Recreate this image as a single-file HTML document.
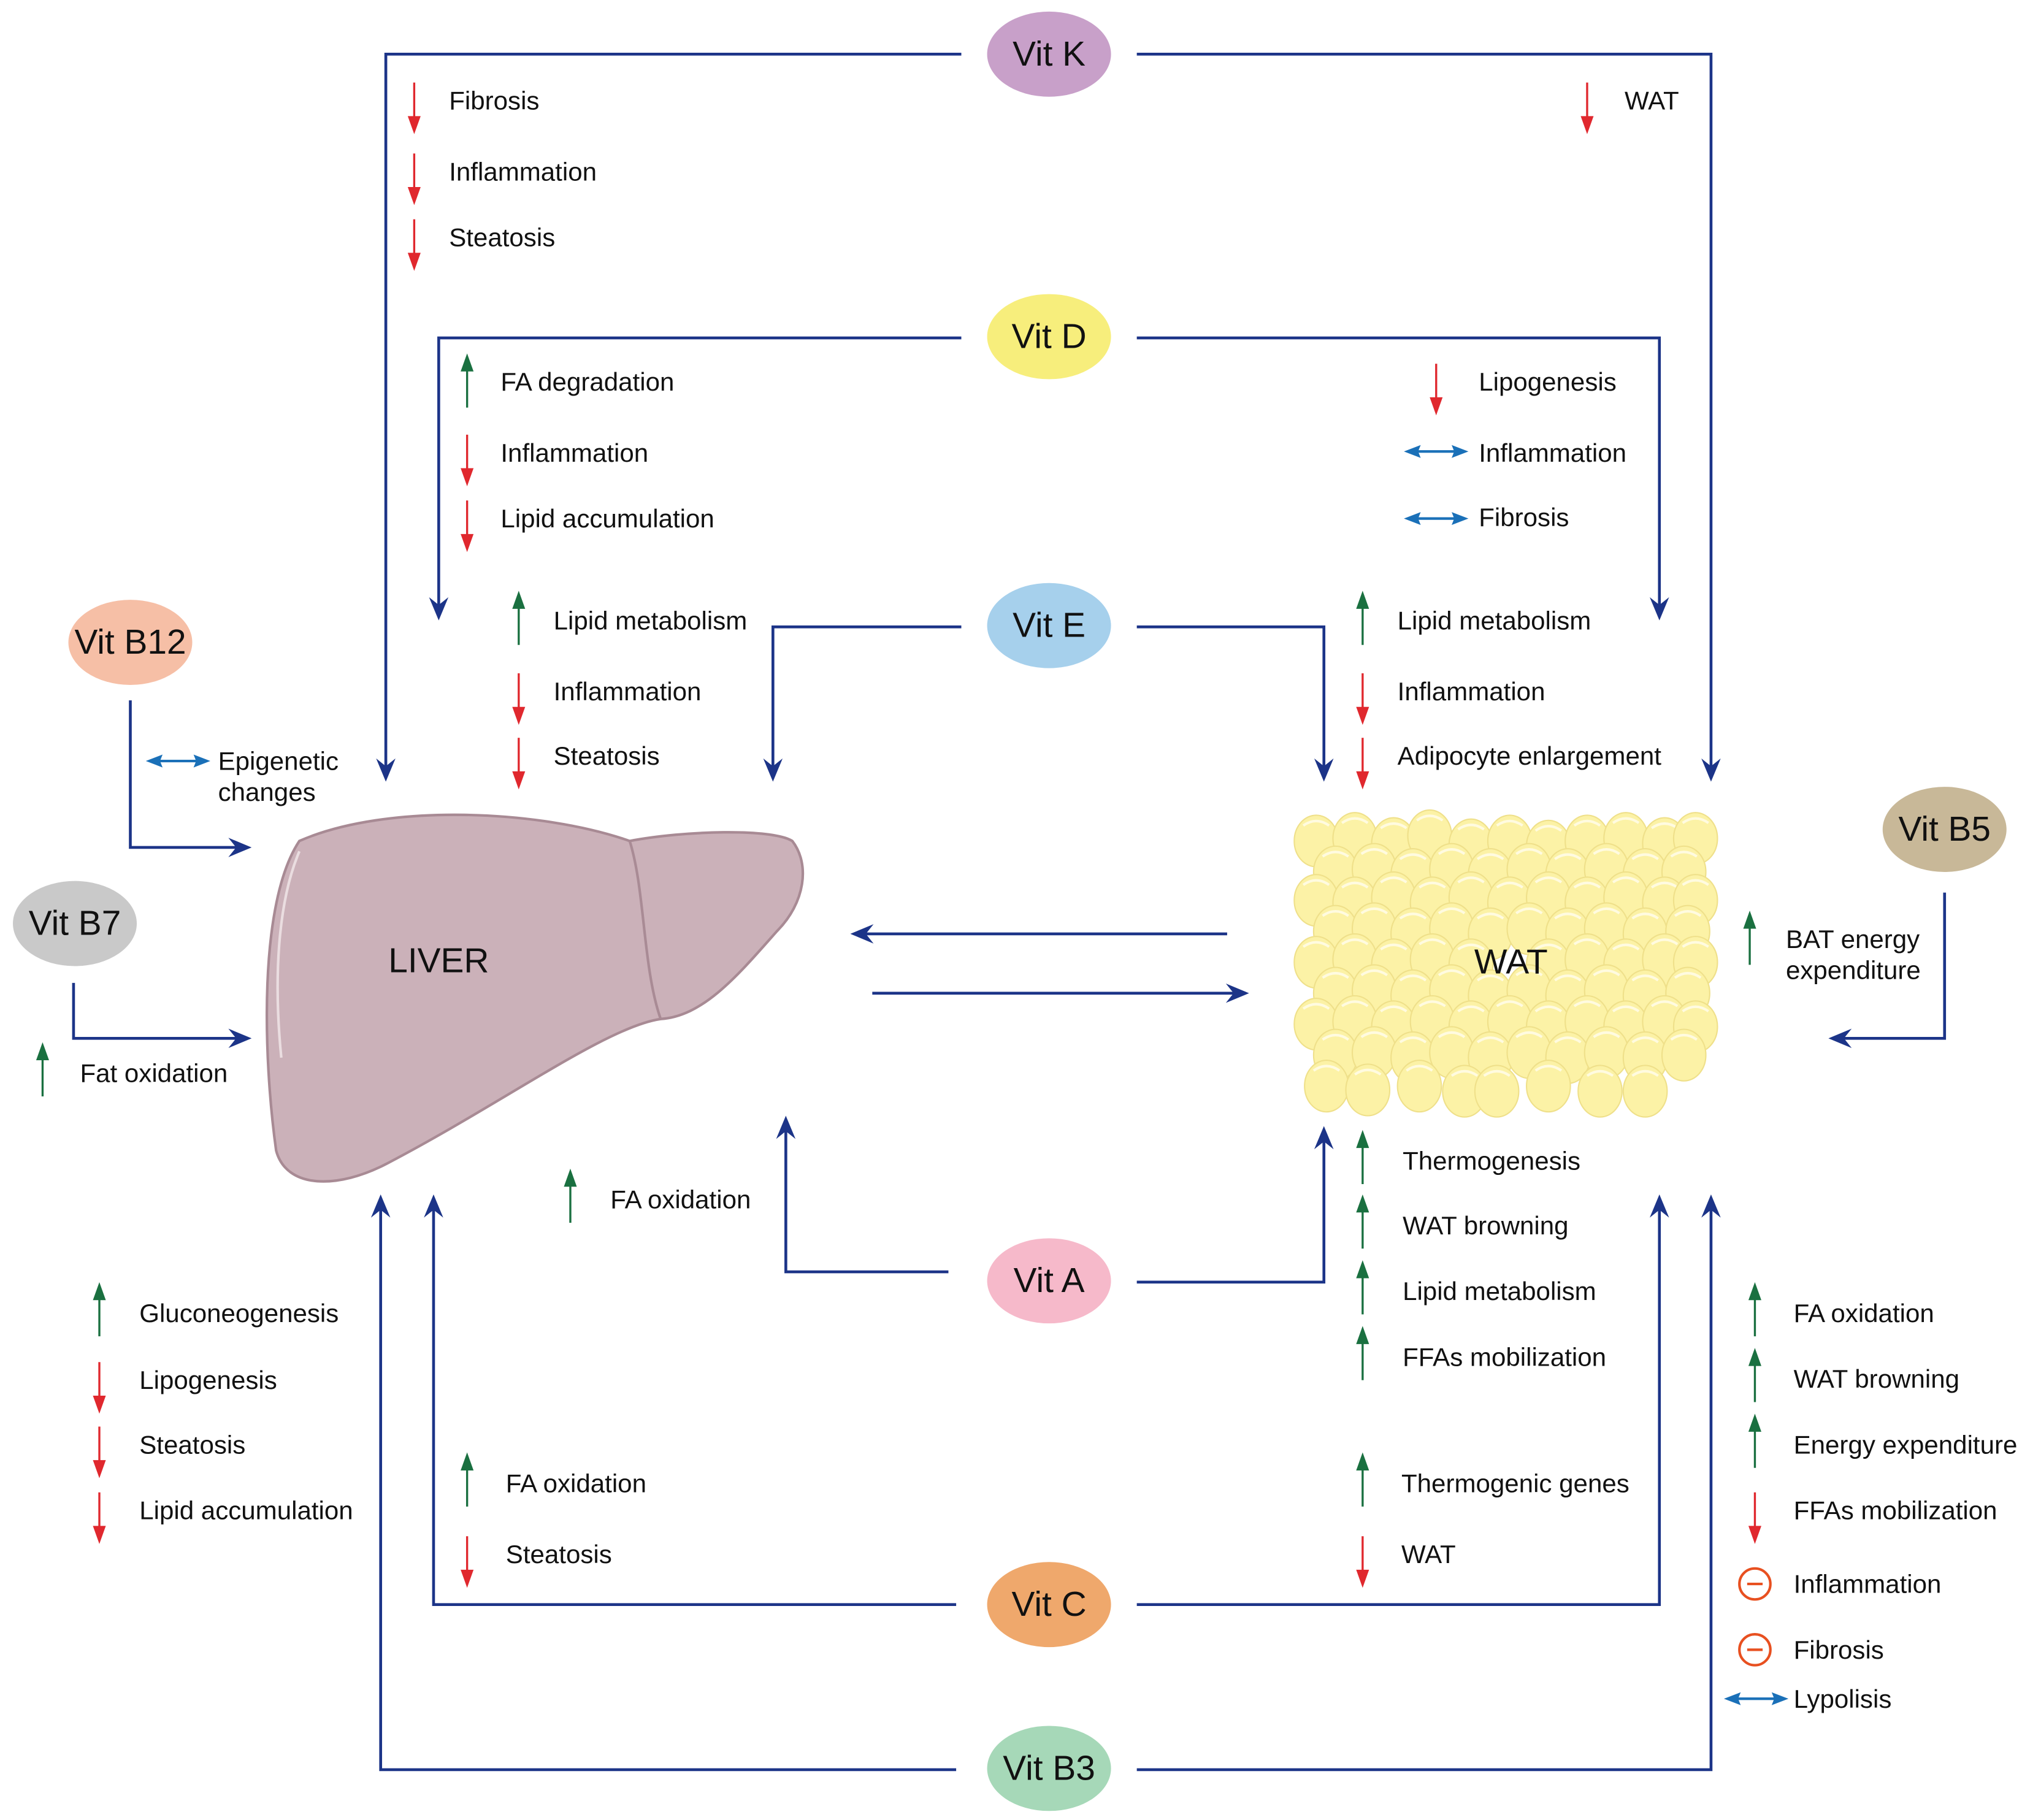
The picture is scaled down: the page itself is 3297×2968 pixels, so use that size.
<!DOCTYPE html>
<html><head><meta charset="utf-8"><style>
html,body{margin:0;padding:0;background:#fff;}
svg{display:block;}
text{font-family:"Liberation Sans",sans-serif;font-size:20px;fill:#111;dominant-baseline:central;}
.v{font-size:27px;text-anchor:middle;}
.c{fill:none;stroke:#1c3488;stroke-width:2.2;}
</style></head><body>
<svg width="3297" height="2968" viewBox="0 0 1567 1411" preserveAspectRatio="none" xmlns="http://www.w3.org/2000/svg">
<defs>
<marker id="m" viewBox="0 0 12 12" refX="10" refY="6" markerWidth="18" markerHeight="18" markerUnits="userSpaceOnUse" orient="auto"><path d="M0,1 L12,6 L0,11 L4,6 Z" fill="#1c3488"/></marker>
<g id="rd"><line x1="0" y1="-18" x2="0" y2="10" stroke="#e0282e" stroke-width="1.6"/><path d="M-5,8 L5,8 L0,22 Z" fill="#e0282e"/></g>
<g id="gu"><line x1="0" y1="22" x2="0" y2="-8" stroke="#1a7040" stroke-width="1.6"/><path d="M-5,-6 L5,-6 L0,-20 Z" fill="#1a7040"/></g>
<g id="bd"><line x1="-20" y1="0" x2="20" y2="0" stroke="#1a70b8" stroke-width="2"/><path d="M-25,0 L-12,-5 L-14,0 L-12,5 Z M25,0 L12,-5 L14,0 L12,5 Z" fill="#1a70b8"/></g>
<g id="mn"><circle r="12" fill="none" stroke="#e85020" stroke-width="2"/><line x1="-6" x2="6" y1="0" y2="0" stroke="#e85020" stroke-width="2"/></g>
<g id="cl"><ellipse rx="17" ry="20" fill="#fcf2a6" stroke="#efe08a" stroke-width="1"/><path d="M-10,-12 Q0,-19 10,-12" fill="none" stroke="#fffbe0" stroke-width="2"/></g>
</defs>

<path class="c" d="M745,42 H299 V603" marker-end="url(#m)"/>
<path class="c" d="M881,42 H1326 V603" marker-end="url(#m)"/>
<path class="c" d="M745,262 H340 V478" marker-end="url(#m)"/>
<path class="c" d="M881,262 H1286 V478" marker-end="url(#m)"/>
<path class="c" d="M745,486 H599 V603" marker-end="url(#m)"/>
<path class="c" d="M881,486 H1026 V603" marker-end="url(#m)"/>
<path class="c" d="M735,986 H609 V868" marker-end="url(#m)"/>
<path class="c" d="M881,994 H1026 V876" marker-end="url(#m)"/>
<path class="c" d="M741,1244 H336 V929" marker-end="url(#m)"/>
<path class="c" d="M881,1244 H1286 V929" marker-end="url(#m)"/>
<path class="c" d="M741,1372 H295 V929" marker-end="url(#m)"/>
<path class="c" d="M881,1372 H1326 V929" marker-end="url(#m)"/>
<path class="c" d="M101,543 V657 H192" marker-end="url(#m)"/>
<path class="c" d="M57,762 V805 H192" marker-end="url(#m)"/>
<path class="c" d="M1507,692 V805 H1420" marker-end="url(#m)"/>
<path class="c" d="M951,724 H662" marker-end="url(#m)"/>
<path class="c" d="M676,770 H965" marker-end="url(#m)"/>

<path d="M232,652 C300,622 420,628 488,652 C530,644 598,642 614,652 C628,670 624,700 602,722 C572,756 545,788 512,790 C470,796 390,855 300,902 C262,922 222,922 214,892 C204,820 200,700 232,652 Z" fill="#cbb1b9" stroke="#a88a94" stroke-width="2"/>
<path d="M488,652 C500,690 498,750 512,790" fill="none" stroke="#a98b95" stroke-width="2"/>
<path d="M232,660 C215,700 212,760 218,820" fill="none" stroke="#eadde0" stroke-width="2"/>
<text x="340" y="745" style="font-size:27px;text-anchor:middle">LIVER</text>

<g>
<use href="#cl" x="1020" y="652"/><use href="#cl" x="1050" y="650"/><use href="#cl" x="1080" y="654"/><use href="#cl" x="1108" y="648"/><use href="#cl" x="1140" y="655"/><use href="#cl" x="1170" y="652"/><use href="#cl" x="1200" y="656"/><use href="#cl" x="1230" y="652"/><use href="#cl" x="1260" y="650"/><use href="#cl" x="1290" y="654"/><use href="#cl" x="1314" y="650"/>
<use href="#cl" x="1035" y="676"/><use href="#cl" x="1065" y="674"/><use href="#cl" x="1095" y="678"/><use href="#cl" x="1125" y="674"/><use href="#cl" x="1155" y="678"/><use href="#cl" x="1185" y="674"/><use href="#cl" x="1215" y="678"/><use href="#cl" x="1245" y="674"/><use href="#cl" x="1275" y="678"/><use href="#cl" x="1305" y="676"/>
<use href="#cl" x="1020" y="698"/><use href="#cl" x="1050" y="700"/><use href="#cl" x="1080" y="696"/><use href="#cl" x="1110" y="700"/><use href="#cl" x="1140" y="696"/><use href="#cl" x="1170" y="700"/><use href="#cl" x="1200" y="696"/><use href="#cl" x="1230" y="700"/><use href="#cl" x="1260" y="696"/><use href="#cl" x="1290" y="700"/><use href="#cl" x="1314" y="698"/>
<use href="#cl" x="1035" y="722"/><use href="#cl" x="1065" y="720"/><use href="#cl" x="1095" y="724"/><use href="#cl" x="1125" y="720"/><use href="#cl" x="1155" y="724"/><use href="#cl" x="1185" y="720"/><use href="#cl" x="1215" y="724"/><use href="#cl" x="1245" y="720"/><use href="#cl" x="1275" y="724"/><use href="#cl" x="1308" y="722"/>
<use href="#cl" x="1020" y="746"/><use href="#cl" x="1050" y="744"/><use href="#cl" x="1080" y="748"/><use href="#cl" x="1110" y="744"/><use href="#cl" x="1140" y="748"/><use href="#cl" x="1200" y="748"/><use href="#cl" x="1230" y="744"/><use href="#cl" x="1260" y="748"/><use href="#cl" x="1290" y="744"/><use href="#cl" x="1314" y="746"/>
<use href="#cl" x="1035" y="770"/><use href="#cl" x="1065" y="768"/><use href="#cl" x="1095" y="772"/><use href="#cl" x="1125" y="768"/><use href="#cl" x="1155" y="772"/><use href="#cl" x="1185" y="768"/><use href="#cl" x="1215" y="772"/><use href="#cl" x="1245" y="768"/><use href="#cl" x="1275" y="772"/><use href="#cl" x="1308" y="770"/>
<use href="#cl" x="1020" y="794"/><use href="#cl" x="1050" y="792"/><use href="#cl" x="1080" y="796"/><use href="#cl" x="1110" y="792"/><use href="#cl" x="1140" y="796"/><use href="#cl" x="1170" y="792"/><use href="#cl" x="1200" y="796"/><use href="#cl" x="1230" y="792"/><use href="#cl" x="1260" y="796"/><use href="#cl" x="1290" y="792"/><use href="#cl" x="1314" y="796"/>
<use href="#cl" x="1035" y="818"/><use href="#cl" x="1065" y="816"/><use href="#cl" x="1095" y="820"/><use href="#cl" x="1125" y="816"/><use href="#cl" x="1155" y="820"/><use href="#cl" x="1185" y="816"/><use href="#cl" x="1215" y="820"/><use href="#cl" x="1245" y="816"/><use href="#cl" x="1275" y="820"/><use href="#cl" x="1305" y="818"/>
<use href="#cl" x="1028" y="842"/><use href="#cl" x="1060" y="845"/><use href="#cl" x="1100" y="842"/><use href="#cl" x="1135" y="846"/><use href="#cl" x="1160" y="846"/><use href="#cl" x="1200" y="842"/><use href="#cl" x="1240" y="846"/><use href="#cl" x="1275" y="846"/>
</g>
<text x="1171" y="746" style="font-size:27px;text-anchor:middle">WAT</text>

<ellipse cx="813" cy="42" rx="48" ry="33" fill="#c8a0c9"/><text class="v" x="813" y="42">Vit K</text>
<ellipse cx="813" cy="261" rx="48" ry="33" fill="#f7ee7c"/><text class="v" x="813" y="261">Vit D</text>
<ellipse cx="813" cy="485" rx="48" ry="33" fill="#a6d0ec"/><text class="v" x="813" y="485">Vit E</text>
<ellipse cx="813" cy="993" rx="48" ry="33" fill="#f6b9ca"/><text class="v" x="813" y="993">Vit A</text>
<ellipse cx="813" cy="1244" rx="48" ry="33" fill="#efa86c"/><text class="v" x="813" y="1244">Vit C</text>
<ellipse cx="813" cy="1371" rx="48" ry="33" fill="#a6d8b8"/><text class="v" x="813" y="1371">Vit B3</text>
<ellipse cx="101" cy="498" rx="48" ry="33" fill="#f6bfa6"/><text class="v" x="101" y="498">Vit B12</text>
<ellipse cx="58" cy="716" rx="48" ry="33" fill="#c9c9c9"/><text class="v" x="58" y="716">Vit B7</text>
<ellipse cx="1507" cy="643" rx="48" ry="33" fill="#c8b898"/><text class="v" x="1507" y="643">Vit B5</text>

<use href="#rd" x="321" y="82"/><text x="348" y="78">Fibrosis</text>
<use href="#rd" x="321" y="137"/><text x="348" y="133">Inflammation</text>
<use href="#rd" x="321" y="188"/><text x="348" y="184">Steatosis</text>
<use href="#rd" x="1230" y="82"/><text x="1259" y="78">WAT</text>
<use href="#gu" x="362" y="294"/><text x="388" y="296">FA degradation</text>
<use href="#rd" x="362" y="355"/><text x="388" y="351">Inflammation</text>
<use href="#rd" x="362" y="406"/><text x="388" y="402">Lipid accumulation</text>
<use href="#rd" x="1113" y="300"/><text x="1146" y="296">Lipogenesis</text>
<use href="#bd" x="1113" y="350"/><text x="1146" y="351">Inflammation</text>
<use href="#bd" x="1113" y="402"/><text x="1146" y="401">Fibrosis</text>
<use href="#gu" x="402" y="478"/><text x="429" y="481">Lipid metabolism</text>
<use href="#rd" x="402" y="540"/><text x="429" y="536">Inflammation</text>
<use href="#rd" x="402" y="590"/><text x="429" y="586">Steatosis</text>
<use href="#gu" x="1056" y="478"/><text x="1083" y="481">Lipid metabolism</text>
<use href="#rd" x="1056" y="540"/><text x="1083" y="536">Inflammation</text>
<use href="#rd" x="1056" y="590"/><text x="1083" y="586">Adipocyte enlargement</text>
<use href="#bd" x="138" y="590"/><text x="169" y="590">Epigenetic</text><text x="169" y="614">changes</text>
<use href="#gu" x="33" y="828"/><text x="62" y="832">Fat oxidation</text>
<use href="#gu" x="1356" y="726"/><text x="1384" y="728">BAT energy</text><text x="1384" y="752">expenditure</text>
<use href="#gu" x="442" y="926"/><text x="473" y="930">FA oxidation</text>
<use href="#gu" x="1056" y="896"/><text x="1087" y="900">Thermogenesis</text>
<use href="#gu" x="1056" y="946"/><text x="1087" y="950">WAT browning</text>
<use href="#gu" x="1056" y="997"/><text x="1087" y="1001">Lipid metabolism</text>
<use href="#gu" x="1056" y="1048"/><text x="1087" y="1052">FFAs mobilization</text>
<use href="#gu" x="77" y="1014"/><text x="108" y="1018">Gluconeogenesis</text>
<use href="#rd" x="77" y="1074"/><text x="108" y="1070">Lipogenesis</text>
<use href="#rd" x="77" y="1124"/><text x="108" y="1120">Steatosis</text>
<use href="#rd" x="77" y="1175"/><text x="108" y="1171">Lipid accumulation</text>
<use href="#gu" x="362" y="1146"/><text x="392" y="1150">FA oxidation</text>
<use href="#rd" x="362" y="1209"/><text x="392" y="1205">Steatosis</text>
<use href="#gu" x="1056" y="1146"/><text x="1086" y="1150">Thermogenic genes</text>
<use href="#rd" x="1056" y="1209"/><text x="1086" y="1205">WAT</text>
<use href="#gu" x="1360" y="1014"/><text x="1390" y="1018">FA oxidation</text>
<use href="#gu" x="1360" y="1065"/><text x="1390" y="1069">WAT browning</text>
<use href="#gu" x="1360" y="1116"/><text x="1390" y="1120">Energy expenditure</text>
<use href="#rd" x="1360" y="1175"/><text x="1390" y="1171">FFAs mobilization</text>
<use href="#mn" x="1360" y="1228"/><text x="1390" y="1228">Inflammation</text>
<use href="#mn" x="1360" y="1279"/><text x="1390" y="1279">Fibrosis</text>
<use href="#bd" x="1361" y="1317"/><text x="1390" y="1317">Lypolisis</text>
</svg>
</body></html>
